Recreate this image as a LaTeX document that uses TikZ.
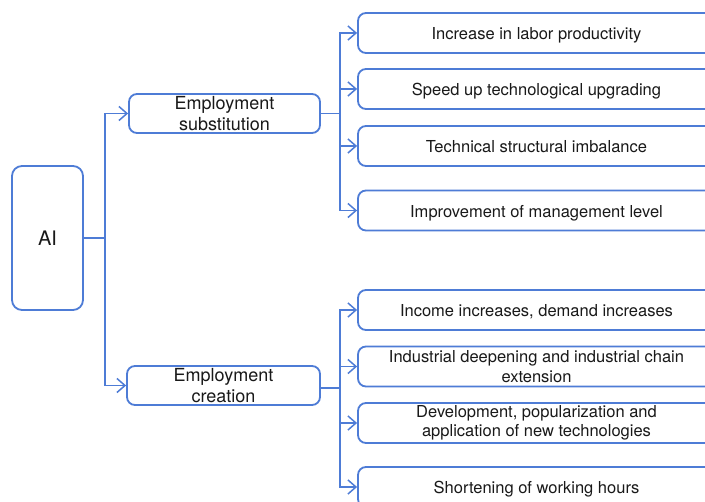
\documentclass[tikz,border=0pt]{standalone}
\usepackage{fontspec}
\setmainfont{TeX Gyre Heros}
\usetikzlibrary{arrows.meta}
\definecolor{lineblue}{RGB}{78,124,214}
\tikzset{
  box/.style={draw=lineblue, line width=1.8pt, rounded corners=8pt, inner sep=0pt, align=center, text=black!90},
  rbox/.style={box, minimum width=357pt, minimum height=40pt, font=\fontsize{16.5}{19.5}\selectfont},
  onel/.style={text depth=0pt, text height=14pt},
  mbox/.style={box, minimum height=39pt, font=\fontsize{18}{21}\selectfont},
  conn/.style={draw=lineblue, line width=1.8pt},
  arr/.style={conn, -{Straight Barb[length=8pt,width=14pt,line width=1.5pt]}}
}
\begin{document}
\begin{tikzpicture}[x=1pt,y=-1pt]
\clip (0,0) rectangle (705,502);
\useasboundingbox (0,0) rectangle (705,502);
\fill[white] (0,0) rectangle (705,502);
% nodes
\node[box, minimum width=71pt, minimum height=144pt, rounded corners=10pt, font=\fontsize{20}{24}\selectfont] (ai) at (47.5,238) {AI};
\node[mbox, minimum width=191pt] (es) at (224.5,113.5) {Employment\\substitution};
\node[mbox, minimum width=193pt] (ec) at (223.5,385.5) {Employment\\creation};
\node[rbox, onel] (r1) at (536.5,33) {Increase in labor productivity};
\node[rbox, onel] (r2) at (536.5,89) {Speed up technological upgrading};
\node[rbox, onel] (r3) at (536.5,146) {Technical structural imbalance};
\node[rbox, onel] (r4) at (536.5,210.5) {Improvement of management level};
\node[rbox, onel] (c1) at (536.5,310) {Income increases, demand increases};
\node[rbox] (c2) at (536.5,366.5) {Industrial deepening and industrial chain\\extension};
\node[rbox] (c3) at (536.5,423) {Development, popularization and\\application of new technologies};
\node[rbox, onel] (c4) at (536.5,487) {Shortening of working hours};
% junctions
\coordinate (j0) at (105,238);
\coordinate (j1) at (340,113.5);
\coordinate (j2) at (340,388);
% connectors
\draw[conn] (ai.east) -- (j0);
\draw[arr] (j0) |- (es.west);
\draw[arr] (j0) |- (ec.west);
\draw[conn] (es.east) -- (j1);
\draw[conn] ([yshift=-2.5pt]ec.east) -- (j2);
\foreach \n in {r1,r2,r3,r4}{\draw[arr] (j1) |- (\n.west);}
\foreach \n in {c1,c2,c3,c4}{\draw[arr] (j2) |- (\n.west);}
\end{tikzpicture}
\end{document}
